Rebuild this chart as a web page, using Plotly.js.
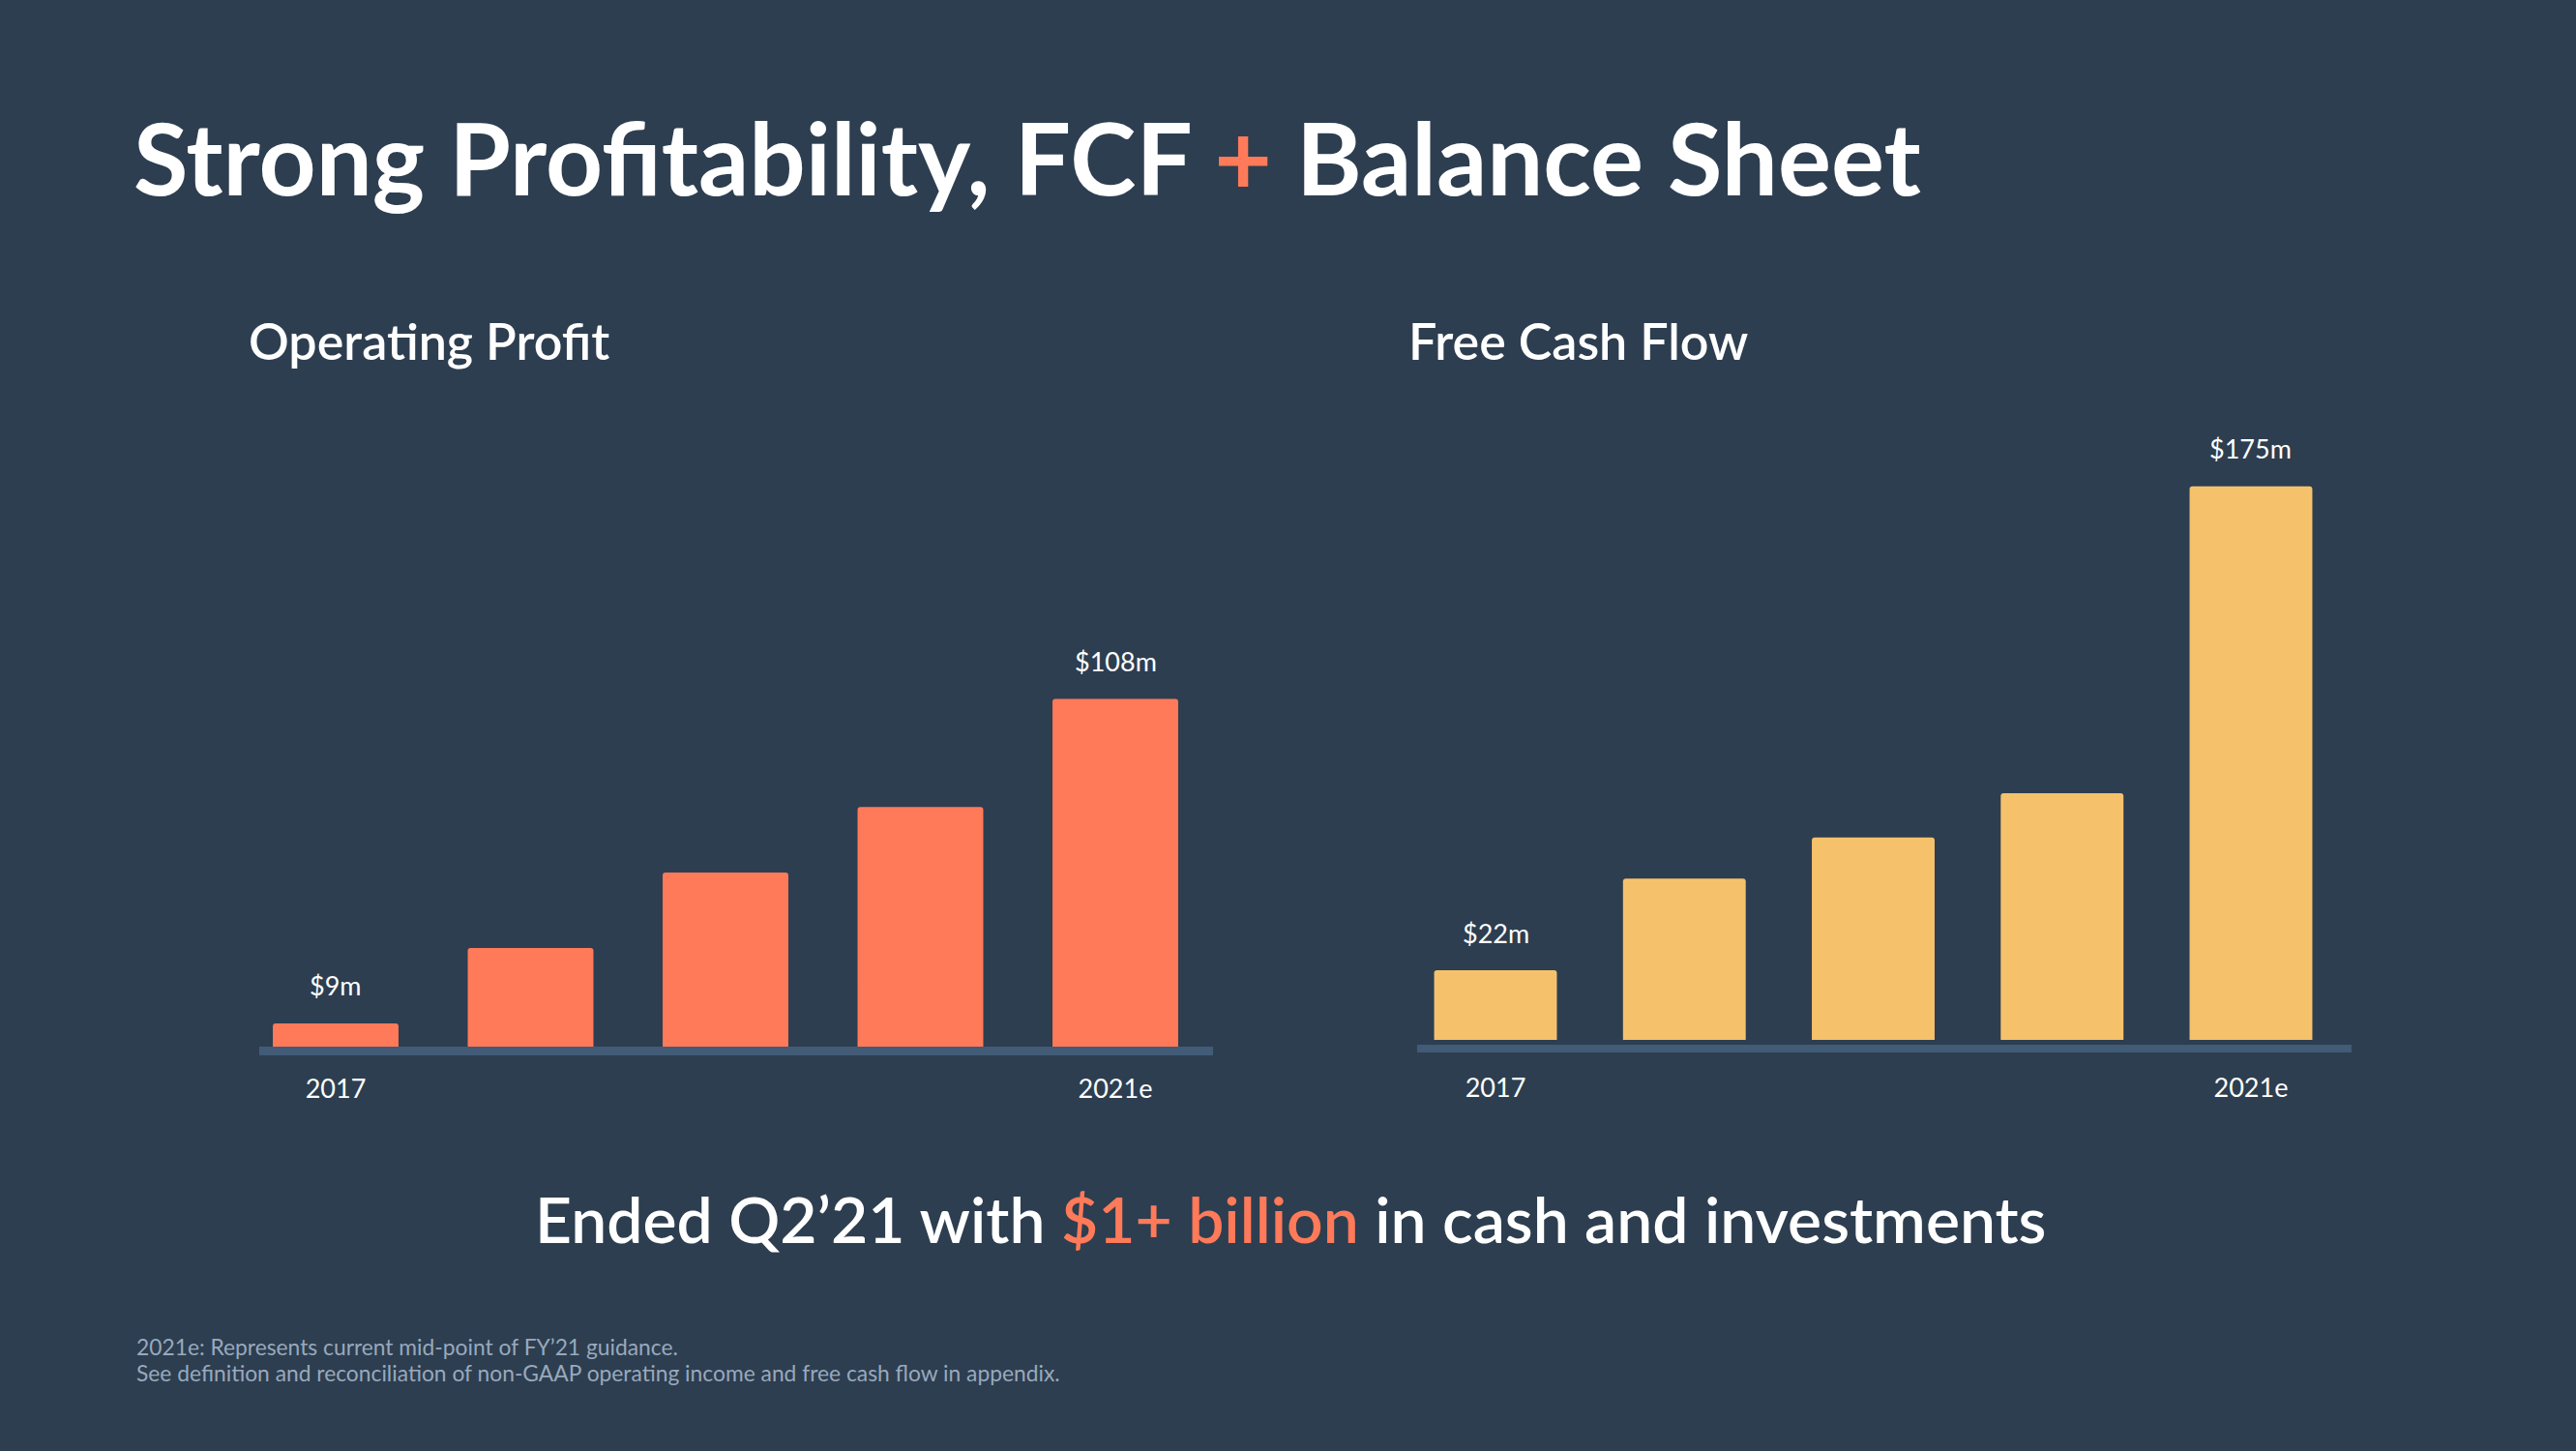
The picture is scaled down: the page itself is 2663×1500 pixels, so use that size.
<!DOCTYPE html>
<html>
<head>
<meta charset="utf-8">
<script src="https://cdn.plot.ly/plotly-3.0.1.min.js"></script>
<style>
  html, body { margin: 0; padding: 0; background: #2d3e50; }
  #chart { width: 2663px; height: 1500px; }
</style>
</head>
<body>
<div id="chart"></div>
<script>
// ---- Data ----
const years = ["2017", "2018", "2019", "2020", "2021e"];
const tickYears = ["2017", "2021e"];
const operatingProfit = [9, 32, 55, 75, 108];   // $m
const freeCashFlow = [22, 51, 64, 78, 175];     // $m
const opLabels = ["$9m", "", "", "", "$108m"];
const fcfLabels = ["$22m", "", "", "", "$175m"];

// ---- Styling ----
const W = 2663, H = 1500;
const BG = "#2d3e50";
const ORANGE = "#ff7a59";
const YELLOW = "#f5c26b";
const BAND = "#425b76";
const FONT = "Lato, 'Open Sans', sans-serif";
const px = v => v / W;
const py = v => 1 - v / H;

const traces = [
  {
    type: "bar", x: years, y: operatingProfit, xaxis: "x", yaxis: "y",
    width: 0.645, marker: { color: ORANGE, cornerradius: 3 },
    hoverinfo: "x+y"
  },
  {
    type: "bar", x: years, y: freeCashFlow, xaxis: "x2", yaxis: "y2",
    width: 0.65, marker: { color: YELLOW, cornerradius: 3 },
    hoverinfo: "x+y"
  }
];

const annotations = [];
function dataLabels(labels, values, xr, yr) {
  labels.forEach((t, i) => {
    if (!t) return;
    annotations.push({
      xref: xr, yref: yr, x: i, y: values[i], text: t,
      showarrow: false, yanchor: "middle", yshift: 39,
      font: { family: FONT, size: 27, color: "#ffffff" }
    });
  });
}
dataLabels(opLabels, operatingProfit, "x", "y");
dataLabels(fcfLabels, freeCashFlow, "x2", "y2");

annotations.push(
  { xref: "paper", yref: "paper", x: px(255), y: py(352), xanchor: "left", yanchor: "middle",
    text: "Operating Profit", showarrow: false,
    font: { family: FONT, size: 52, color: "#ffffff", weight: 600 } },
  { xref: "paper", yref: "paper", x: px(1454), y: py(352), xanchor: "left", yanchor: "middle",
    text: "Free Cash Flow", showarrow: false,
    font: { family: FONT, size: 52, color: "#ffffff", weight: 600 } },
  { xref: "paper", yref: "paper", x: px(1334), y: py(1259), xanchor: "center", yanchor: "middle",
    text: "Ended Q2’21 with <span style=\"color:" + ORANGE + "\">$1+ billion</span> in cash and investments",
    showarrow: false, font: { family: FONT, size: 66, color: "#ffffff", weight: 600 } },
  { xref: "paper", yref: "paper", x: px(139), y: py(1392), xanchor: "left", yanchor: "middle",
    text: "2021e: Represents current mid-point of FY’21 guidance.", showarrow: false,
    font: { family: FONT, size: 22.8, color: "#98a9bd" } },
  { xref: "paper", yref: "paper", x: px(139), y: py(1419), xanchor: "left", yanchor: "middle",
    text: "See definition and reconciliation of non-GAAP operating income and free cash flow in appendix.",
    showarrow: false, font: { family: FONT, size: 22.8, color: "#98a9bd" } }
);

const axisX = {
  type: "category", range: [-0.5, 4.5], showgrid: false, zeroline: false, showline: false,
  ticks: "", tickvals: tickYears, ticktext: tickYears,
  tickfont: { family: FONT, size: 27, color: "#ffffff" }, fixedrange: true
};

const layout = {
  width: W, height: H,
  margin: { l: 0, r: 0, t: 0, b: 0, pad: 0 },
  paper_bgcolor: BG, plot_bgcolor: BG,
  showlegend: false,
  title: {
    text: "Strong Profitability, FCF <span style=\"color:" + ORANGE + "\">+</span> Balance Sheet",
    x: px(138), xanchor: "left", xref: "paper",
    y: py(166), yanchor: "middle", yref: "paper",
    font: { family: FONT, size: 103, color: "#ffffff", weight: 700 }
  },
  xaxis: Object.assign({}, axisX, { domain: [px(246.25), px(1253.75)], anchor: "y", ticklabelstandoff: 18 }),
  yaxis: { domain: [py(1088.5), py(600)], range: [0, 144.1], visible: false, fixedrange: true },
  xaxis2: Object.assign({}, axisX, { domain: [px(1448.4), px(2424.6)], anchor: "y2", ticklabelstandoff: 31 }),
  yaxis2: { domain: [py(1075), py(450)], range: [0, 191.1], visible: false, fixedrange: true },
  shapes: [
    { type: "rect", xref: "paper", yref: "paper", layer: "above",
      x0: px(268), x1: px(1254), y0: py(1091), y1: py(1082),
      fillcolor: BAND, line: { width: 0 } },
    { type: "rect", xref: "paper", yref: "paper", layer: "above",
      x0: px(1465), x1: px(2431), y0: py(1088), y1: py(1080),
      fillcolor: BAND, line: { width: 0 } }
  ],
  annotations: annotations
};

Plotly.newPlot("chart", traces, layout, { displayModeBar: false, staticPlot: true });
</script>
</body>
</html>
